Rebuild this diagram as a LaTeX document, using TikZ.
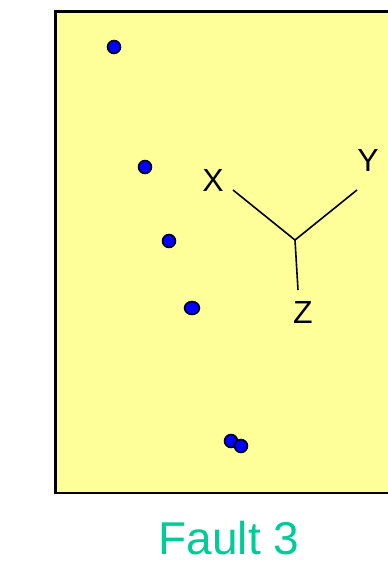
\documentclass[tikz,border=0pt]{standalone}
\usepackage{fontspec}
\usetikzlibrary{shapes.geometric}
\setmainfont{Liberation Sans}
\definecolor{paneyellow}{RGB}{255,255,153}
\definecolor{faultgreen}{RGB}{0,204,153}
\begin{document}
\begin{tikzpicture}[x=1pt,y=-1pt,
  dot/.style={circle,draw=black,fill=blue,line width=1.5pt,minimum size=13pt,inner sep=0pt},
  axisline/.style={line width=1.6pt,black},
  axislabel/.style={font=\fontsize{32}{32}\selectfont,inner sep=0pt}]
\useasboundingbox (0,0) rectangle (388,562);
\draw[fill=paneyellow,line width=2.5pt] (55.5,11.5) rectangle (420,493);
\node[dot] (d1) at (114,47) {};
\node[dot] (d2) at (145,167) {};
\node[dot] (d3) at (169,241) {};
\node[dot,ellipse,minimum width=15pt,minimum height=13pt] (d4) at (192,308) {};
\node[dot] (d5) at (231,441) {};
\node[dot] (d6) at (241,446) {};
\coordinate (c) at (295,240);
\coordinate (xe) at (233,190);
\coordinate (ye) at (357,190);
\coordinate (ze) at (298,290);
\draw[axisline] (c) -- (xe);
\draw[axisline] (c) -- (ye);
\draw[axisline] (c) -- (ze);
\node[axislabel] (xl) at (213,180) {X};
\node[axislabel] (yl) at (368,160) {Y};
\node[axislabel] (zl) at (303,312) {Z};
\node[font=\fontsize{46}{46}\selectfont,text=faultgreen,inner sep=0pt] (title) at (229,538) {Fault 3};
\end{tikzpicture}
\end{document}
